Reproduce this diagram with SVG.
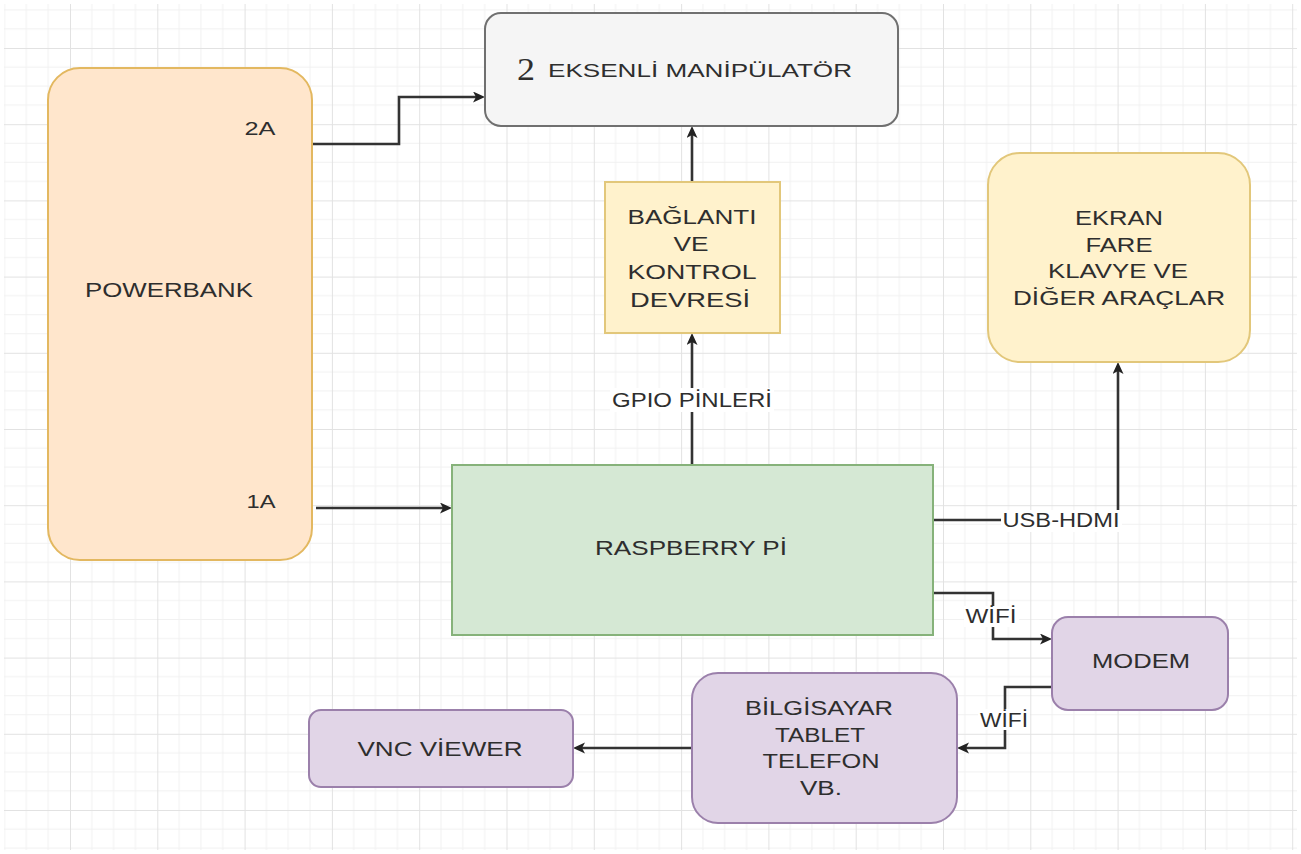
<svg xmlns="http://www.w3.org/2000/svg" width="1301" height="854" viewBox="0 0 1301 854">
  <style>
    .t { font-family: "Liberation Sans", Arial, sans-serif; font-size: 20px; fill: #2e2e2e; text-anchor: middle; }
    .ts { font-family: "Liberation Sans", Arial, sans-serif; font-size: 18px; fill: #2e2e2e; text-anchor: middle; }
    .conn { fill: none; stroke: #333333; stroke-width: 2.6; }
    .lblbg { fill: #ffffff; }
    .orange { fill: #ffe6cc; stroke: #e3b860; stroke-width: 2; }
    .gray { fill: #f5f5f5; stroke: #707070; stroke-width: 2; }
    .yellow { fill: #fff2cc; stroke: #e2c77a; stroke-width: 2; }
    .green { fill: #d5e8d4; stroke: #86b27a; stroke-width: 2; }
    .purple { fill: #e1d5e7; stroke: #9b80ab; stroke-width: 2; }
  </style>
  <defs>
    <pattern id="grid" patternUnits="userSpaceOnUse" x="70" y="48" width="87.3" height="76.2">
      <path d="M21.8,0 V76.2 M43.6,0 V76.2 M65.5,0 V76.2 M0,19 H87.3 M0,38.1 H87.3 M0,57.1 H87.3" fill="none" stroke="#f1f1f1" stroke-width="1"/>
      <path d="M0.5,0 V76.2 M0,0.5 H87.3" fill="none" stroke="#e2e2e2" stroke-width="1"/>
    </pattern>
    <marker id="arr" markerUnits="userSpaceOnUse" markerWidth="14" markerHeight="12" refX="3" refY="5.5" orient="auto">
      <path d="M0,0 L12,5.5 L0,11 L3,5.5 z" fill="#222222"/>
    </marker>
  </defs>

  <rect x="0" y="0" width="1301" height="854" fill="#ffffff"/>
  <rect x="4" y="4" width="1293" height="846" fill="url(#grid)"/>

  <g id="connectors">
    <path class="conn" d="M312,144 H399 V97 H476" marker-end="url(#arr)"/>
    <path class="conn" d="M316,508 H443" marker-end="url(#arr)"/>
    <path class="conn" d="M692,182 V135" marker-end="url(#arr)"/>
    <path class="conn" d="M692,465 V342" marker-end="url(#arr)"/>
    <path class="conn" d="M933,520 H1118 V371" marker-end="url(#arr)"/>
    <path class="conn" d="M933,593 H993 V639 H1043" marker-end="url(#arr)"/>
    <path class="conn" d="M1052,687 H1005 V748 H966" marker-end="url(#arr)"/>
    <path class="conn" d="M692,748 H582" marker-end="url(#arr)"/>

    <rect class="lblbg" x="610" y="388" width="164" height="24"/>
    <text class="t" x="692" y="407" textLength="160" lengthAdjust="spacingAndGlyphs">GPIO PİNLERİ</text>
    <rect class="lblbg" x="1001" y="510" width="121" height="22"/>
    <text class="t" x="1061" y="527" textLength="117" lengthAdjust="spacingAndGlyphs">USB-HDMI</text>
    <rect class="lblbg" x="964" y="606" width="55" height="21"/>
    <text class="t" x="991" y="623" textLength="51" lengthAdjust="spacingAndGlyphs">WİFİ</text>
    <rect class="lblbg" x="978" y="709" width="52" height="21"/>
    <text class="t" x="1004" y="727" textLength="48" lengthAdjust="spacingAndGlyphs">WİFİ</text>
  </g>

  <g id="powerbank">
    <rect class="orange" x="48" y="68" width="264" height="492" rx="32" ry="32"/>
    <text class="ts" x="260" y="135" textLength="31" lengthAdjust="spacingAndGlyphs">2A</text>
    <text class="t" x="169" y="297" textLength="168" lengthAdjust="spacingAndGlyphs">POWERBANK</text>
    <text class="ts" x="261" y="508" textLength="29" lengthAdjust="spacingAndGlyphs">1A</text>
  </g>

  <g id="manipulator">
    <rect class="gray" x="485" y="13" width="413" height="113" rx="16" ry="16"/>
    <text x="517" y="80" font-family="'Liberation Serif', 'Times New Roman', serif" font-size="31" fill="#2e2e2e" textLength="18" lengthAdjust="spacingAndGlyphs">2</text>
    <text x="548" y="77" font-family="'Liberation Sans', Arial, sans-serif" font-size="19" fill="#2e2e2e" textLength="304" lengthAdjust="spacingAndGlyphs">EKSENLİ MANİPÜLATÖR</text>
  </g>

  <g id="baglanti">
    <rect class="yellow" x="605" y="182" width="175" height="151"/>
    <text class="t" x="692" y="224" textLength="129" lengthAdjust="spacingAndGlyphs">BAĞLANTI</text>
    <text class="t" x="691" y="251" textLength="35" lengthAdjust="spacingAndGlyphs">VE</text>
    <text class="t" x="692" y="279" textLength="129" lengthAdjust="spacingAndGlyphs">KONTROL</text>
    <text class="t" x="690" y="307" textLength="120" lengthAdjust="spacingAndGlyphs">DEVRESİ</text>
  </g>

  <g id="ekran">
    <rect class="yellow" x="988" y="153" width="262" height="209" rx="32" ry="32"/>
    <text class="t" x="1119" y="225" textLength="88" lengthAdjust="spacingAndGlyphs">EKRAN</text>
    <text class="t" x="1119" y="252" textLength="67" lengthAdjust="spacingAndGlyphs">FARE</text>
    <text class="t" x="1118" y="278" textLength="140" lengthAdjust="spacingAndGlyphs">KLAVYE VE</text>
    <text class="t" x="1119" y="305" textLength="212" lengthAdjust="spacingAndGlyphs">DİĞER ARAÇLAR</text>
  </g>

  <g id="raspberry">
    <rect class="green" x="452" y="465" width="481" height="170"/>
    <text class="t" x="691" y="555" textLength="192" lengthAdjust="spacingAndGlyphs">RASPBERRY Pİ</text>
  </g>

  <g id="modem">
    <rect class="purple" x="1052" y="617" width="176" height="93" rx="16" ry="16"/>
    <text class="t" x="1141" y="668" textLength="98" lengthAdjust="spacingAndGlyphs">MODEM</text>
  </g>

  <g id="bilgisayar">
    <rect class="purple" x="692" y="673" width="265" height="150" rx="26" ry="26"/>
    <text class="t" x="819" y="715" textLength="148" lengthAdjust="spacingAndGlyphs">BİLGİSAYAR</text>
    <text class="t" x="820" y="742" textLength="90" lengthAdjust="spacingAndGlyphs">TABLET</text>
    <text class="t" x="821" y="768" textLength="117" lengthAdjust="spacingAndGlyphs">TELEFON</text>
    <text class="t" x="821" y="795" textLength="42" lengthAdjust="spacingAndGlyphs">VB.</text>
  </g>

  <g id="vnc">
    <rect class="purple" x="309" y="710" width="264" height="77" rx="12" ry="12"/>
    <text class="t" x="440" y="756" textLength="165" lengthAdjust="spacingAndGlyphs">VNC VİEWER</text>
  </g>
</svg>
